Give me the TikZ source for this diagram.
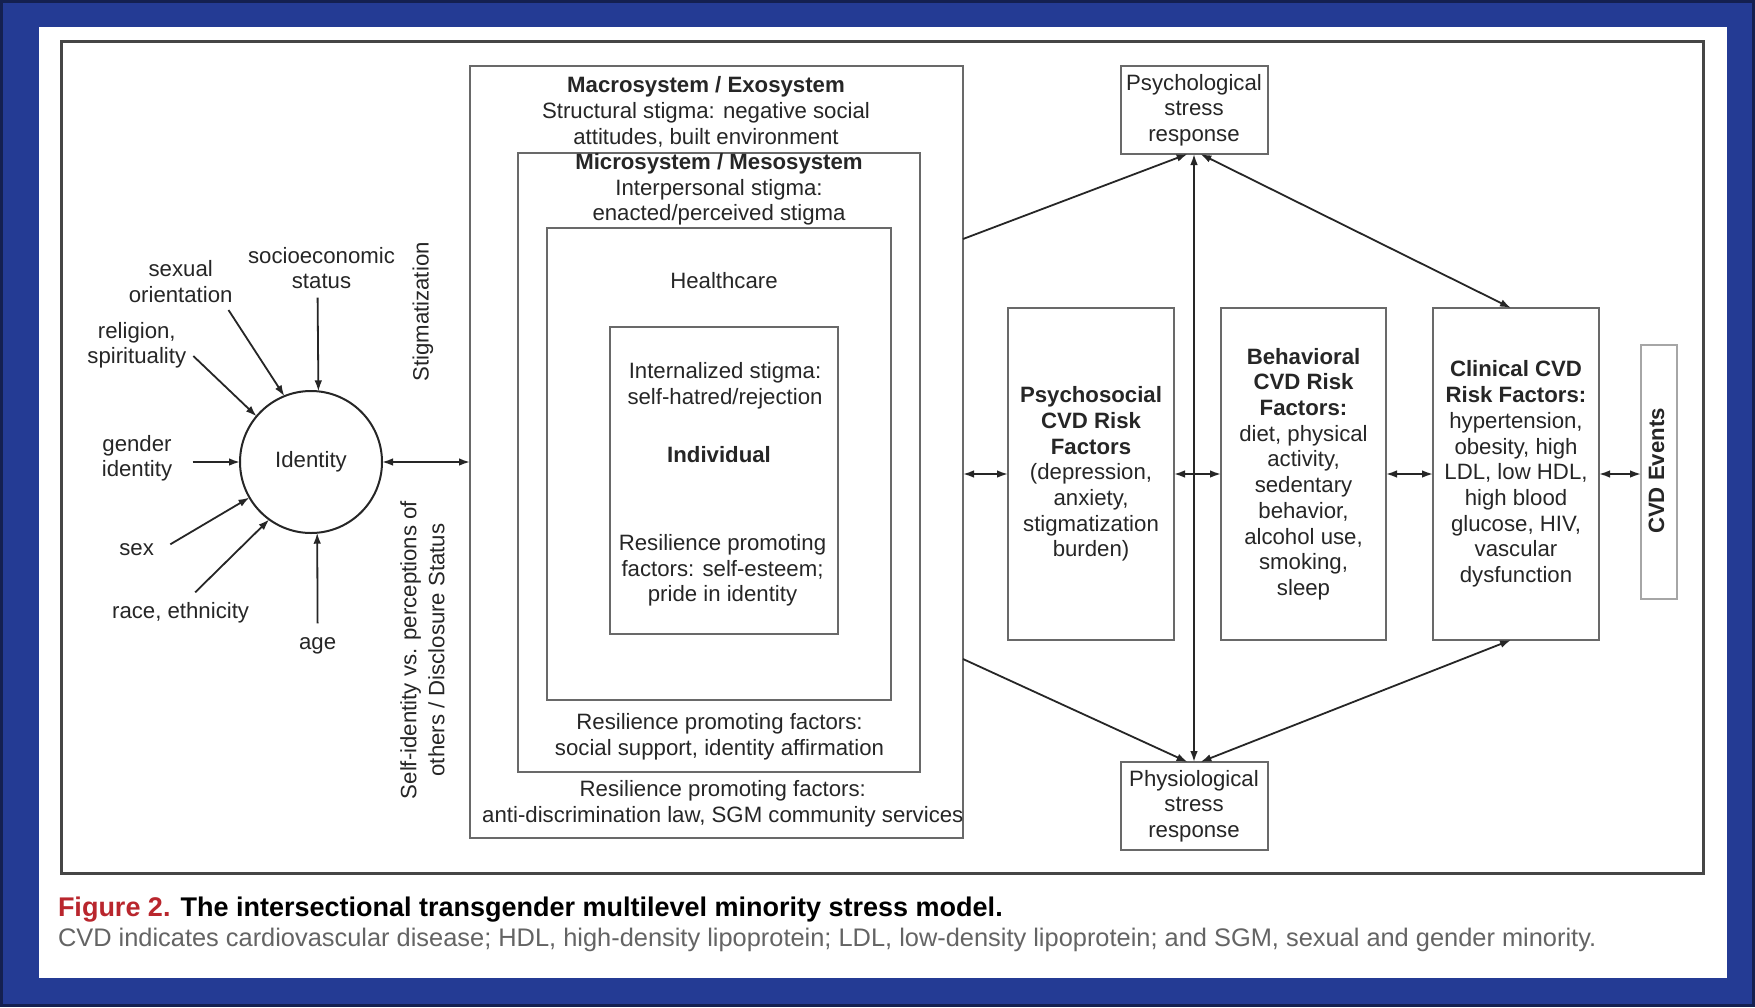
\documentclass[tikz,border=0pt]{standalone}
\usepackage{fontspec}
\setmainfont{Liberation Sans}
\usetikzlibrary{arrows.meta,calc}
\definecolor{bgblue}{RGB}{36,59,148}
\definecolor{bgdark}{RGB}{20,32,80}
\definecolor{boxgray}{RGB}{105,105,105}
\definecolor{framegray}{RGB}{70,70,70}
\definecolor{txt}{RGB}{38,38,38}
\definecolor{capred}{RGB}{185,38,45}
\definecolor{capgray}{RGB}{100,100,100}
\begin{document}
\begin{tikzpicture}[x=0.5pt,y=-0.5pt,
  every node/.style={inner sep=0pt, outer sep=0pt, text=txt, font=\fontsize{11.1}{12.85}\selectfont},
  lbl/.style={align=center},
  boxn/.style={draw=boxgray, line width=1pt, rectangle, align=center},
  arr/.style={-{Latex[length=5.5pt,width=3.8pt]}, line width=0.9pt, draw=black!85},
  darr/.style={{Latex[length=5.5pt,width=3.8pt]}-{Latex[length=5.5pt,width=3.8pt]}, line width=0.9pt, draw=black!85},
]
% background
\path[use as bounding box, fill=bgblue] (0,0) rectangle (1755,1007);
\draw[bgdark, line width=1.5pt] (1.5,1.5) rectangle (1753.5,1005.5);
\fill[white] (39,27) rectangle (1727,978);

% main frame
\node[draw=framegray, line width=1.5pt, minimum width=821pt, minimum height=416pt] (frame) at (882,457) {};

% nested boxes
\node[boxn, minimum width=246.5pt, minimum height=386pt] (macro) at (716.5,452) {};
\node[boxn, minimum width=201pt, minimum height=309.5pt] (micro) at (719,462.5) {};
\node[boxn, minimum width=172pt, minimum height=236pt] (health) at (719,464) {};
\node[boxn, minimum width=114pt, minimum height=153.5pt] (indiv) at (724,480.5) {};

\node[lbl] (macrot) at (706,112) {\textbf{Macrosystem / Exosystem}\\Structural stigma: negative social\\attitudes, built environment};
\node[lbl] (microt) at (719,189.5) {\textbf{Microsystem / Mesosystem}\\Interpersonal stigma:\\enacted/perceived stigma};
\node (healtht) at (724,281) {Healthcare};
\node[lbl] (intt) at (725,386) {Internalized stigma:\\self-hatred/rejection};
\node (indivt) at (719,455) {\textbf{Individual}};
\node[lbl] (resi) at (722.5,570.5) {Resilience promoting\\factors: self-esteem;\\pride in identity};
\node[lbl] (resm) at (719.5,737) {Resilience promoting factors:\\social support, identity affirmation};
\node[lbl] (resx) at (722.8,804) {Resilience promoting factors:\\anti-discrimination law, SGM community services};

% identity
\node[circle, draw=black!85, line width=1pt, minimum size=71pt] (identity) at (311,462) {Identity};

\node[lbl] (so) at (180.7,281.3) {sexual\\orientation};
\node[lbl] (ses) at (321.5,268) {socioeconomic\\status};
\node[lbl] (rel) at (136.8,345.3) {religion,\\spirituality};
\node[lbl] (gi) at (137,458.2) {gender\\identity};
\node (sex) at (136.6,549.3) {sex};
\node (race) at (180.6,612.3) {race, ethnicity};
\node (age) at (317.6,645.5) {age};

\coordinate (soA) at (228.5,310);
\coordinate (sesA) at (317.6,297.7);
\coordinate (relA) at (193.3,356);
\coordinate (giA) at (192.5,462);
\coordinate (sexA) at (170.3,544.3);
\coordinate (raceA) at (195.2,592.3);
\coordinate (ageA) at (317.6,623.3);
\draw[arr] (soA) -- (identity.112.6);
\draw[arr] (sesA) -- (identity.84.3);
\draw[arr] (relA) -- (identity.140);
\draw[arr] (giA) -- (identity.180);
\draw[arr] (sexA) -- (identity.210.6);
\draw[arr] (raceA) -- (identity.234.8);
\draw[arr] (ageA) -- (identity.275.7);

\draw[darr] (identity.east) -- (identity.east -| macro.west);

\node[rotate=90] (stig) at (423,312) {Stigmatization};
\node[rotate=90, align=center, font=\fontsize{11.1}{14}\selectfont] (selfid) at (422.5,650) {Self-identity vs. perceptions of\\others / Disclosure Status};

% right side boxes
\node[boxn, minimum width=73.5pt, minimum height=44pt] (psych) at (1194,110) {Psychological\\stress\\response};
\node[boxn, minimum width=73.5pt, minimum height=44pt] (physio) at (1194,806) {Physiological\\stress\\response};
\node[boxn, minimum width=83pt, minimum height=166pt] (psychosocial) at (1091,474) {\textbf{Psychosocial}\\\textbf{CVD Risk}\\\textbf{Factors}\\(depression,\\anxiety,\\stigmatization\\burden)};
\node[boxn, minimum width=82.5pt, minimum height=166pt] (behav) at (1303.5,474) {\textbf{Behavioral}\\\textbf{CVD Risk}\\\textbf{Factors:}\\diet, physical\\activity,\\sedentary\\behavior,\\alcohol use,\\smoking,\\sleep};
\node[boxn, minimum width=83pt, minimum height=166pt] (clin) at (1516,474) {\textbf{Clinical CVD}\\\textbf{Risk Factors:}\\hypertension,\\obesity, high\\LDL, low HDL,\\high blood\\glucose, HIV,\\vascular\\dysfunction};
\node[draw=black!35, line width=0.8pt, minimum width=18pt, minimum height=127pt] (events) at (1659,472) {};
\node[rotate=90] (eventst) at (1656.5,471) {\textbf{CVD Events}};

% connectors
\draw[darr] (psychosocial.west) -- (psychosocial.west -| macro.east);
\draw[darr] (psychosocial.east) -- (behav.west);
\draw[darr] (behav.east) -- (clin.west);
\draw[darr] (clin.east) -- (clin.east -| events.west);
\draw[darr] (psych.south) -- (physio.north);
\coordinate (mt) at (0,239);
\coordinate (mb) at (0,659);
\draw[arr] (macro.east |- mt) -- ([xshift=-3.2pt]psych.south);
\draw[darr] ([xshift=3.2pt]psych.south) -- ([xshift=-2.5pt]clin.north);
\draw[arr] (macro.east |- mb) -- ([xshift=-3.2pt]physio.north);
\draw[darr] ([xshift=3.2pt]physio.north) -- ([xshift=-2.5pt]clin.south);

% caption
\node[anchor=west, font=\fontsize{13.5}{15}\selectfont] (cap1) at (58,909.5) {\textcolor{capred}{\textbf{Figure 2.}} \textcolor{black}{\textbf{The intersectional transgender multilevel minority stress model.}}};
\node[anchor=west, text=capgray, font=\fontsize{12.7}{14}\selectfont] (cap2) at (58,940) {CVD indicates cardiovascular disease; HDL, high-density lipoprotein; LDL, low-density lipoprotein; and SGM, sexual and gender minority.};
\end{tikzpicture}
\end{document}
